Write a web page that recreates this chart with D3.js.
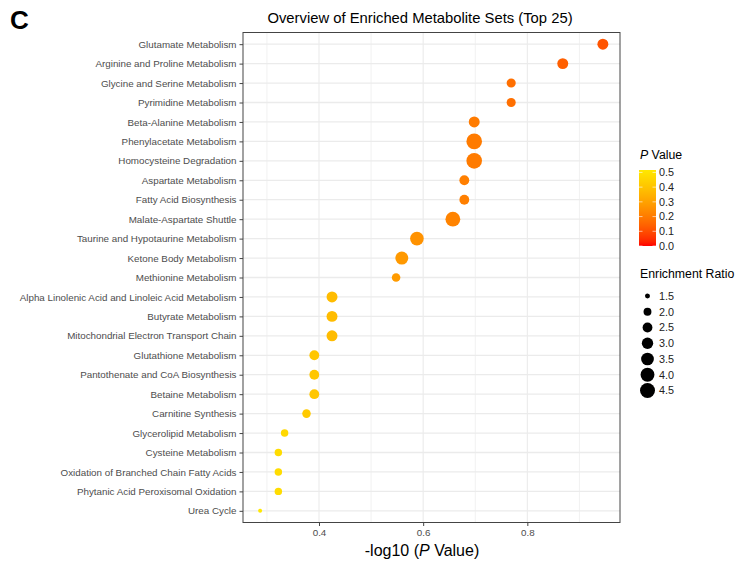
<!DOCTYPE html>
<html>
<head>
<meta charset="utf-8">
<script src="https://cdn.jsdelivr.net/npm/d3@7"></script>
<style>
  body { margin: 0; background: #fff; }
  svg { display: block; font-family: "Liberation Sans", Arial, sans-serif; }
</style>
</head>
<body>
<div id="graf"></div>
<script>
// I. Datos
const sets = [
  'Glutamate Metabolism', 'Arginine and Proline Metabolism', 'Glycine and Serine Metabolism',
  'Pyrimidine Metabolism', 'Beta-Alanine Metabolism', 'Phenylacetate Metabolism',
  'Homocysteine Degradation', 'Aspartate Metabolism', 'Fatty Acid Biosynthesis',
  'Malate-Aspartate Shuttle', 'Taurine and Hypotaurine Metabolism', 'Ketone Body Metabolism',
  'Methionine Metabolism', 'Alpha Linolenic Acid and Linoleic Acid Metabolism', 'Butyrate Metabolism',
  'Mitochondrial Electron Transport Chain', 'Glutathione Metabolism', 'Pantothenate and CoA Biosynthesis',
  'Betaine Metabolism', 'Carnitine Synthesis', 'Glycerolipid Metabolism', 'Cysteine Metabolism',
  'Oxidation of Branched Chain Fatty Acids', 'Phytanic Acid Peroxisomal Oxidation', 'Urea Cycle'
]
// -log10(p)
const logP = [0.945, 0.868, 0.769, 0.769, 0.698, 0.698, 0.698, 0.679, 0.679, 0.657, 0.588, 0.559,
  0.548, 0.425, 0.425, 0.425, 0.391, 0.391, 0.391, 0.376, 0.334, 0.322, 0.322, 0.322, 0.287]
const ratio = [2.85, 2.85, 2.3, 2.3, 2.85, 4.8, 4.8, 2.5, 2.5, 4.4, 3.9, 3.6,
  2.15, 2.85, 2.85, 2.85, 2.5, 2.5, 2.5, 2.15, 1.9, 1.9, 1.9, 1.9, 1.4]

const xTicks = [0.4, 0.6, 0.8]
const xMinor = [0.3, 0.5, 0.7, 0.9]
const pTicks = [0, 0.1, 0.2, 0.3, 0.4, 0.5]
const ratioBreaks = [1.5, 2.0, 2.5, 3.0, 3.5, 4.0, 4.5]

// II. Configuración
const ancho_total = 736, alto_total = 563
const panel = { left: 243, top: 32.5, right: 620, bottom: 522.5 }

const svg = d3.select('#graf').append('svg')
  .attr('width', ancho_total)
  .attr('height', alto_total)

const data = sets.map((s, i) => ({ set: s, lp: logP[i], p: Math.pow(10, -logP[i]), ratio: ratio[i] }))

// escalas
const ext = d3.extent(logP)
const pad = (ext[1] - ext[0]) * 0.05
const x = d3.scaleLinear()
  .domain([ext[0] - pad, ext[1] + pad])
  .range([panel.left, panel.right])

const y = d3.scalePoint()
  .domain(sets)
  .range([panel.top, panel.bottom])
  .padding(0.6)

const pMax = d3.max(data, d => d.p)
const color = d3.scaleLinear()
  .domain([0, pMax])
  .range(['#ff0000', '#ffe800'])
  .interpolate(d3.interpolateRgb.gamma(1.5))

const sizeNorm = d3.scaleLinear().domain([1.3, 4.8]).range([0, 1])
const sizeR = d3.scaleSqrt().domain([0, 1]).range([0.83, 7.8])
const r = v => sizeR(sizeNorm(v))

// III. Panel y rejilla
svg.append('rect')
  .attr('x', panel.left).attr('y', panel.top)
  .attr('width', panel.right - panel.left)
  .attr('height', panel.bottom - panel.top)
  .attr('fill', '#fff')

const grid = svg.append('g')
grid.selectAll('.minor').data(xMinor).enter().append('line')
  .attr('x1', d => x(d)).attr('x2', d => x(d))
  .attr('y1', panel.top).attr('y2', panel.bottom)
  .attr('stroke', '#EBEBEB').attr('stroke-width', 0.7)
grid.selectAll('.major').data(xTicks).enter().append('line')
  .attr('x1', d => x(d)).attr('x2', d => x(d))
  .attr('y1', panel.top).attr('y2', panel.bottom)
  .attr('stroke', '#EBEBEB').attr('stroke-width', 1.1)
grid.selectAll('.hz').data(sets).enter().append('line')
  .attr('x1', panel.left).attr('x2', panel.right)
  .attr('y1', d => y(d)).attr('y2', d => y(d))
  .attr('stroke', '#EBEBEB').attr('stroke-width', 1.3)

// puntos
svg.append('g').selectAll('circle')
  .data(data)
  .enter()
  .append('circle')
  .attr('cx', d => x(d.lp))
  .attr('cy', d => y(d.set))
  .attr('r', d => r(d.ratio))
  .attr('fill', d => color(d.p))

// borde
svg.append('rect')
  .attr('x', panel.left).attr('y', panel.top)
  .attr('width', panel.right - panel.left)
  .attr('height', panel.bottom - panel.top)
  .attr('fill', 'none')
  .attr('stroke', '#444').attr('stroke-width', 1)

// IV. Ejes
const xAxis = svg.append('g')
  .attr('transform', `translate(0,${panel.bottom})`)
  .call(d3.axisBottom(x).tickValues(xTicks).tickSize(3.5).tickPadding(3).tickFormat(d3.format('.1f')))
const yAxis = svg.append('g')
  .attr('transform', `translate(${panel.left},0)`)
  .call(d3.axisLeft(y).tickSize(3.5).tickPadding(3))

;[xAxis, yAxis].forEach(a => {
  a.select('.domain').remove()
  a.selectAll('.tick line').attr('stroke', '#444')
  a.selectAll('.tick text')
    .attr('fill', '#4D4D4D')
    .style('font-size', '9.8px')
    .style('font-family', '"Liberation Sans", Arial, sans-serif')
})

// textos
svg.append('text')
  .attr('x', 10).attr('y', 29)
  .style('font-size', '26px').style('font-weight', 'bold')
  .text('C')

svg.append('text')
  .attr('x', 420).attr('y', 23)
  .attr('text-anchor', 'middle')
  .style('font-size', '14.8px')
  .text('Overview of Enriched Metabolite Sets (Top 25)')

const xt = svg.append('text')
  .attr('x', 422).attr('y', 556)
  .attr('text-anchor', 'middle')
  .style('font-size', '16px')
xt.append('tspan').text('-log10 (')
xt.append('tspan').style('font-style', 'italic').text('P')
xt.append('tspan').text(' Value)')

// V. Leyenda de color
const leg = svg.append('g')
const lt = leg.append('text').attr('x', 640).attr('y', 159).style('font-size', '12.3px')
lt.append('tspan').style('font-style', 'italic').text('P')
lt.append('tspan').text(' Value')

const cb = { x: 639, y0: 246, y1: 170, w: 17 }
const cy = d3.scaleLinear().domain([0, pMax]).range([cb.y0, cb.y1])

const grad = svg.append('defs').append('linearGradient')
  .attr('id', 'grad').attr('x1', 0).attr('y1', 1).attr('x2', 0).attr('y2', 0)
d3.range(0, 1.0001, 0.05).forEach(t => {
  grad.append('stop').attr('offset', t).attr('stop-color', color(t * pMax))
})
leg.append('rect')
  .attr('x', cb.x).attr('y', cb.y1)
  .attr('width', cb.w).attr('height', cb.y0 - cb.y1)
  .attr('fill', 'url(#grad)')

leg.selectAll('.cbtick').data(pTicks).enter().append('g').each(function(d) {
  const g = d3.select(this)
  g.append('line').attr('x1', cb.x).attr('x2', cb.x + 3.5)
    .attr('y1', cy(d)).attr('y2', cy(d)).attr('stroke', '#fff').attr('stroke-width', 0.6)
  g.append('line').attr('x1', cb.x + cb.w - 3.5).attr('x2', cb.x + cb.w)
    .attr('y1', cy(d)).attr('y2', cy(d)).attr('stroke', '#fff').attr('stroke-width', 0.6)
  g.append('text').attr('x', 659).attr('y', cy(d)).attr('dy', '0.35em')
    .style('font-size', '10.8px').attr('fill', '#222')
    .text(d3.format('.1f')(d))
})

// VI. Leyenda de tamaño
svg.append('text').attr('x', 640).attr('y', 278).style('font-size', '12.3px').text('Enrichment Ratio')

const ky = d3.scalePoint().domain(ratioBreaks).range([296, 390.5])
const keys = svg.append('g').selectAll('g').data(ratioBreaks).enter().append('g')
keys.append('circle')
  .attr('cx', 647.5).attr('cy', d => ky(d))
  .attr('r', d => r(d))
  .attr('fill', '#000')
keys.append('text')
  .attr('x', 659).attr('y', d => ky(d)).attr('dy', '0.35em')
  .style('font-size', '10.8px').attr('fill', '#222')
  .text(d => d3.format('.1f')(d))
</script>
</body>
</html>
